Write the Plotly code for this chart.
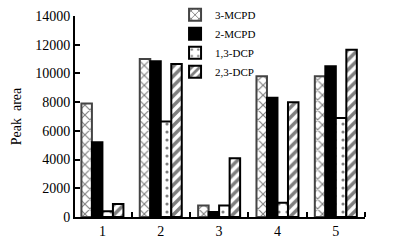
import plotly.graph_objects as go

groups = [1, 2, 3, 4, 5]
group_labels = ["1", "2", "3", "4", "5"]
series_names = ["3-MCPD", "2-MCPD", "1,3-DCP", "2,3-DCP"]
mcpd3 = [7900, 11000, 800, 9800, 9800]
mcpd2 = [5200, 10850, 350, 8300, 10500]
dcp13 = [400, 6650, 800, 1000, 6900]
dcp23 = [900, 10650, 4100, 8000, 11650]

FONT = "Liberation Serif, Times New Roman, serif"

styles = [
    dict(color="white", line=dict(color="#444", width=2),
         pattern=dict(shape="x", fgcolor="black", size=7, solidity=0.3)),
    dict(color="black", line=dict(color="black", width=2)),
    dict(color="white", line=dict(color="black", width=2),
         pattern=dict(shape=".", fgcolor="black", size=8, solidity=0.12)),
    dict(color="white", line=dict(color="black", width=2),
         pattern=dict(shape="/", fgcolor="black", size=7, solidity=0.5)),
]

fig = go.Figure()
for name, vals, st in zip(series_names, [mcpd3, mcpd2, dcp13, dcp23], styles):
    fig.add_trace(go.Bar(x=groups, y=vals, name=name, marker=st))

fig.update_layout(
    width=411, height=250,
    margin=dict(l=75, r=46, t=16, b=33, autoexpand=False),
    paper_bgcolor="white", plot_bgcolor="white",
    barmode="group", bargap=0.28, bargroupgap=0,
    font=dict(family=FONT, size=14, color="black"),
    legend=dict(x=0.345, y=1.078, xanchor="left", yanchor="top",
                font=dict(size=11), tracegroupgap=0, bgcolor="rgba(0,0,0,0)",
                itemclick=False),
    xaxis=dict(range=[0.53, 5.5], tickvals=groups, ticktext=group_labels,
               ticks="", showgrid=False, zeroline=False, automargin=False,
               showline=True, linecolor="black", linewidth=2,
               minor=dict(tickvals=[1.5, 2.5, 3.5, 4.5, 5.5], ticks="inside",
                          ticklen=5, tickwidth=1.5, tickcolor="black", showgrid=False)),
    yaxis=dict(range=[0, 14000], dtick=2000, tickformat="d", ticks="inside", ticklen=5,
               tickwidth=1.5, tickcolor="black", showgrid=False, zeroline=False,
               showline=True, linecolor="black", linewidth=2, automargin=False,
               title=dict(text="Peak  area", standoff=10, font=dict(size=14))),
)

fig.write_html("out.html", config={"displayModeBar": False},
               post_script="document.body.style.margin='0';document.body.style.padding='0';document.body.style.overflow='hidden';")
